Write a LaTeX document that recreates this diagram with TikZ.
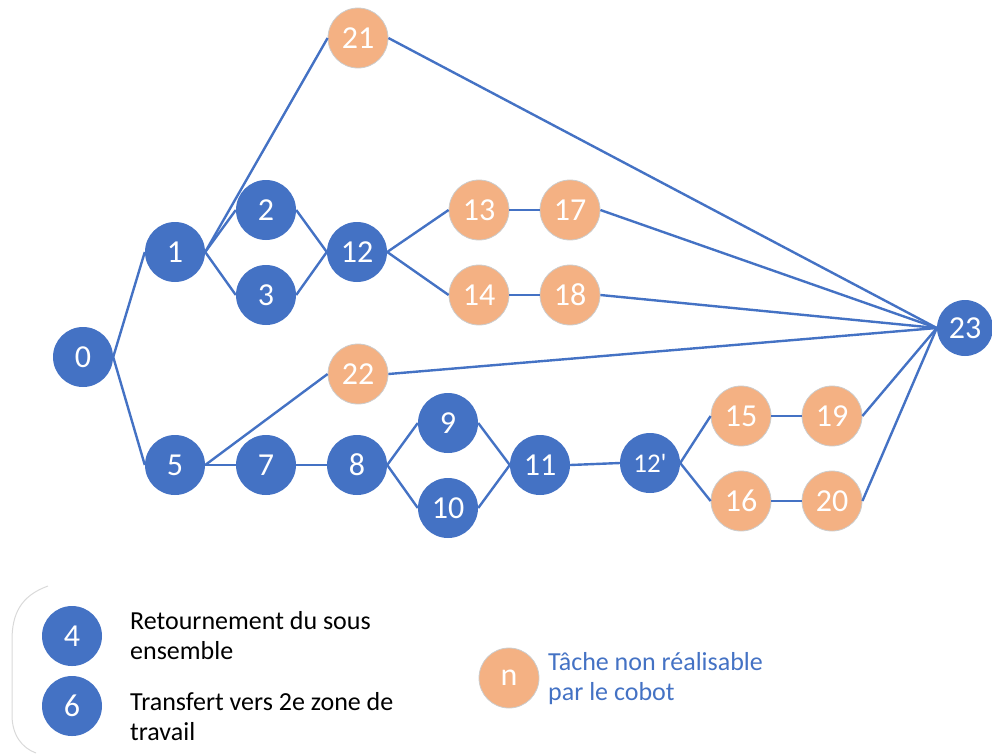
\documentclass[tikz,border=0pt]{standalone}
\usepackage{fontspec}
\setmainfont{Carlito}
\definecolor{bl}{HTML}{4472C4}
\definecolor{og}{HTML}{F4B183}
\begin{document}
\begin{tikzpicture}[x=1pt,y=-1pt,
  bn/.style={circle,fill=bl,minimum size=60pt,inner sep=0pt,text=white,font=\fontsize{32}{32}\selectfont},
  on/.style={circle,fill=og,draw=black!20,line width=0.8pt,minimum size=60pt,inner sep=0pt,text=white,font=\fontsize{32}{32}\selectfont},
  ed/.style={draw=bl,line width=2.4pt},
  lg/.style={anchor=base west,align=left,font=\fontsize{26}{30}\selectfont,inner sep=0pt}]
\useasboundingbox (0,0) rectangle (992,753);
\node[bn] (n0) at (83,357) {0};
\node[bn] (n1) at (175,252) {1};
\node[bn] (n2) at (266,210) {2};
\node[bn] (n3) at (266,295) {3};
\node[bn] (n12) at (357,252) {12};
\node[on] (n21) at (358,38) {21};
\node[on] (n13) at (479,210) {13};
\node[on] (n17) at (570,210) {17};
\node[on] (n14) at (479,295) {14};
\node[on] (n18) at (570,295) {18};
\node[bn,minimum size=56pt] (n23) at (965,328) {23};
\node[on] (n22) at (358,374) {22};
\node[bn] (n5) at (175,465) {5};
\node[bn] (n7) at (266,465) {7};
\node[bn] (n8) at (357,465) {8};
\node[bn] (n9) at (448,423) {9};
\node[bn] (n10) at (448,508) {10};
\node[bn] (n11) at (540,465) {11};
\node[bn,font=\fontsize{27}{27}\selectfont] (n12p) at (650,463) {12\textquotesingle};
\node[on] (n15) at (741,416) {15};
\node[on] (n19) at (832,416) {19};
\node[on] (n16) at (741,501) {16};
\node[on] (n20) at (832,501) {20};
\foreach \a/\b in {n0/n1,n0/n5,n1/n21,n1/n2,n1/n3,n2/n12,n3/n12,n12/n13,n12/n14,n13/n17,n14/n18,n21/n23,n17/n23,n18/n23,n22/n23,n5/n22,n5/n7,n7/n8,n8/n9,n8/n10,n9/n11,n10/n11,n11/n12p,n12p/n15,n12p/n16,n15/n19,n16/n20,n19/n23,n20/n23}
  \draw[ed] (\a.east) -- (\b.west);
% legend
\draw[black!15,line width=1pt] (48,586) .. controls (20,596) and (12,615) .. (12,640) -- (12,715) .. controls (12,735) and (22,748) .. (36,753);
\node[bn] (l4) at (72,636) {4};
\node[bn] (l6) at (72,706) {6};
\node[lg] (t4) at (130,659) {Retournement du sous\\ensemble};
\node[lg] (t6) at (130,740) {Transfert vers 2e zone de\\travail};
\node[on] (ln) at (509,678) {n};
\node[lg,text=bl] (tn) at (548,700) {Tâche non réalisable\\par le cobot};
\end{tikzpicture}
\end{document}
